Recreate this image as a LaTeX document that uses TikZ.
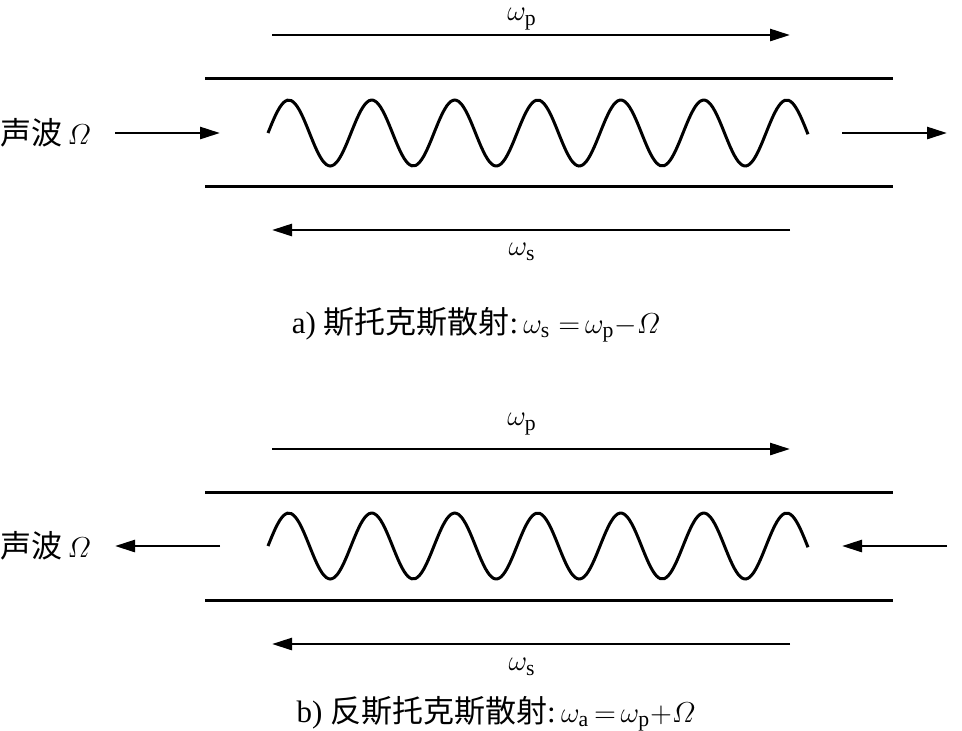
\documentclass[tikz,border=0pt]{standalone}
\usepackage{amsmath}
\usepackage{fontspec}
\setmainfont{Liberation Serif}
\newfontfamily\cjk{Noto Sans CJK SC}
\usetikzlibrary{arrows.meta, positioning}

\begin{document}
\begin{tikzpicture}[
    x=0.5pt, y=-0.5pt,
    font=\fontsize{15.5}{18}\selectfont,
    guide/.style={line width=1.5pt},
    wave/.style={line width=1.5pt, smooth, samples=140},
    arrow/.style={-{Triangle[length=10pt, width=6pt]}, line width=1.3pt},
    lbl/.style={inner sep=0pt}
  ]
  \useasboundingbox (0,0) rectangle (962,730);

  % a) Stokes scattering
  \node[lbl] (wp_a) at (522, 19) {$\omega_{\mathrm{p}}$};
  \coordinate (pa_s) at (272, 35);
  \coordinate (pa_e) at (790, 35);
  \draw[arrow] (pa_s) -- (pa_e);

  \coordinate (ta_l) at (205, 78);
  \coordinate (ta_r) at (893, 78);
  \coordinate (ba_l) at (205, 186);
  \coordinate (ba_r) at (893, 186);
  \draw[guide] (ta_l) -- (ta_r);
  \draw[guide] (ba_l) -- (ba_r);

  \draw[wave] plot[domain=0:540] ({\x+268}, {133-33*sin(360/83*\x)});

  \node[lbl, anchor=west] (sw_a) at (0, 133) {{\cjk 声波}\,$\varOmega$};
  \coordinate (aa_s) at (115, 133);
  \coordinate (aa_e) at (220, 133);
  \draw[arrow] (aa_s) -- (aa_e);
  \coordinate (oa_s) at (842, 133);
  \coordinate (oa_e) at (947, 133);
  \draw[arrow] (oa_s) -- (oa_e);

  \coordinate (sa_s) at (790, 230);
  \coordinate (sa_e) at (272, 230);
  \draw[arrow] (sa_s) -- (sa_e);
  \node[lbl] (ws_a) at (522, 252) {$\omega_{\mathrm{s}}$};

  \node[lbl] (cap_a) at (476, 325) {a) {\cjk 斯托克斯散射}:\,$\omega_{\mathrm{s}}\;{=}\,\omega_{\mathrm{p}}{-}\varOmega$};

  % b) anti-Stokes scattering
  \node[lbl] (wp_b) at (522, 424) {$\omega_{\mathrm{p}}$};
  \coordinate (pb_s) at (272, 449);
  \coordinate (pb_e) at (790, 449);
  \draw[arrow] (pb_s) -- (pb_e);

  \coordinate (tb_l) at (205, 492);
  \coordinate (tb_r) at (893, 492);
  \coordinate (bb_l) at (205, 600);
  \coordinate (bb_r) at (893, 600);
  \draw[guide] (tb_l) -- (tb_r);
  \draw[guide] (bb_l) -- (bb_r);

  \draw[wave] plot[domain=0:540] ({\x+268}, {546-33*sin(360/83*\x)});

  \node[lbl, anchor=west] (sw_b) at (0, 546) {{\cjk 声波}\,$\varOmega$};
  \coordinate (ab_s) at (220, 546);
  \coordinate (ab_e) at (115, 546);
  \draw[arrow] (ab_s) -- (ab_e);
  \coordinate (ob_s) at (947, 546);
  \coordinate (ob_e) at (842, 546);
  \draw[arrow] (ob_s) -- (ob_e);

  \coordinate (sb_s) at (790, 644);
  \coordinate (sb_e) at (272, 644);
  \draw[arrow] (sb_s) -- (sb_e);
  \node[lbl] (ws_b) at (522, 667) {$\omega_{\mathrm{s}}$};

  \node[lbl] (cap_b) at (496, 714) {b) {\cjk 反斯托克斯散射}:\,$\omega_{\mathrm{a}}\,{=}\,\omega_{\mathrm{p}}{+}\varOmega$};
\end{tikzpicture}
\end{document}
